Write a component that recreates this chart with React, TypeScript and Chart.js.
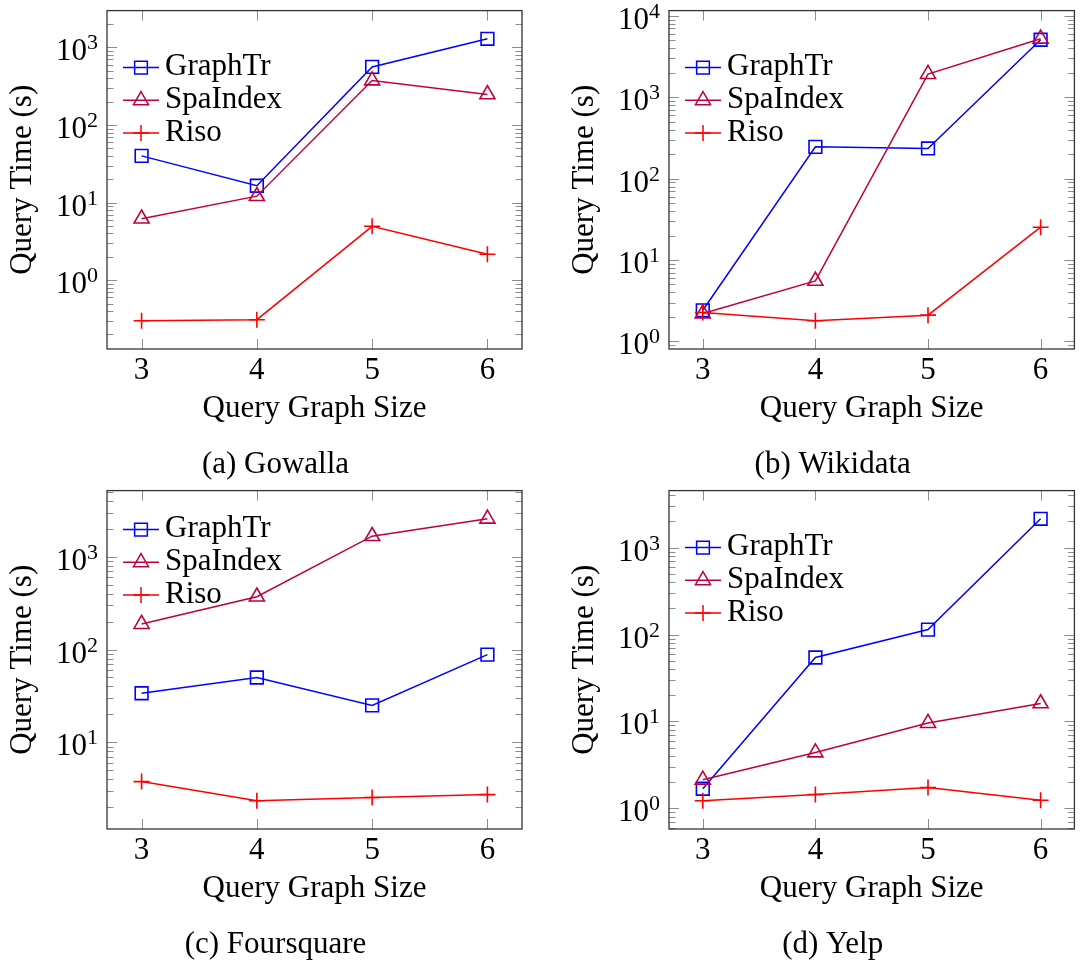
import React, { useEffect, useRef } from "react";
import { Chart, registerables } from "chart.js";

Chart.register(...registerables);

// Query graph sizes on the x axis
const querySizes = [3, 4, 5, 6];
const methodNames = ["GraphTr", "SpaIndex", "Riso"];

// Query time in seconds for each method, per dataset
const gowallaGraphTr = [40, 16.5, 560, 1290];
const gowallaSpaIndex = [6.2, 12.1, 374, 248];
const gowallaRiso = [0.3, 0.31, 4.95, 2.16];

const wikidataGraphTr = [2.41, 246, 235, 5090];
const wikidataSpaIndex = [2.2, 5.54, 1925, 5230];
const wikidataRiso = [2.26, 1.79, 2.1, 25.3];

const foursquareGraphTr = [33.8, 49.9, 25.0, 88.2];
const foursquareSpaIndex = [188, 371, 1667, 2566];
const foursquareRiso = [3.77, 2.34, 2.54, 2.73];

const yelpGraphTr = [1.68, 54.4, 114, 2148];
const yelpSpaIndex = [2.13, 4.38, 9.57, 16.1];
const yelpRiso = [1.22, 1.44, 1.73, 1.24];

const captions = ["(a) Gowalla", "(b) Wikidata", "(c) Foursquare", "(d) Yelp"];
const xTitle = "Query Graph Size";
const yTitle = "Query Time (s)";

const SERIF = "'Liberation Serif', 'Times New Roman', serif";
const FONT_SIZE = 31;
const SUP_SIZE = 22;

const seriesStyles = [
  { color: "#0000ff", pointStyle: "rect", radius: 9 },
  { color: "#bf0040", pointStyle: "triangle", radius: 8.7 },
  { color: "#ff0000", pointStyle: "cross", radius: 8 },
];

type PanelSpec = {
  caption: string;
  series: number[][];
  left: number;
  top: number;
  width: number;
  height: number;
  axisWidth: number;
  rightPad: number;
  legendTop: number;
};

const panels: PanelSpec[] = [
  { caption: captions[0], series: [gowallaGraphTr, gowallaSpaIndex, gowallaRiso], left: 0, top: 0, width: 545, height: 480, axisWidth: 107, rightPad: 23, legendTop: 57 },
  { caption: captions[1], series: [wikidataGraphTr, wikidataSpaIndex, wikidataRiso], left: 545, top: 0, width: 540, height: 480, axisWidth: 124, rightPad: 2, legendTop: 57 },
  { caption: captions[2], series: [foursquareGraphTr, foursquareSpaIndex, foursquareRiso], left: 0, top: 480, width: 545, height: 484, axisWidth: 107, rightPad: 23, legendTop: 39 },
  { caption: captions[3], series: [yelpGraphTr, yelpSpaIndex, yelpRiso], left: 545, top: 480, width: 540, height: 484, axisWidth: 124, rightPad: 2, legendTop: 57 },
];

const CHART_TOP = 5;
const CHART_BOTTOM = 349;

// Axis range padded by 10% of the data span, in log space for y
function logLimits(values: number[]) {
  const logs = values.map((v) => Math.log10(v));
  const lo = Math.min(...logs);
  const hi = Math.max(...logs);
  const pad = (hi - lo) * 0.1;
  return { min: Math.pow(10, lo - pad), max: Math.pow(10, hi + pad) };
}

function linearLimits(values: number[]) {
  const lo = Math.min(...values);
  const hi = Math.max(...values);
  const pad = (hi - lo) * 0.1;
  return { min: lo - pad, max: hi + pad };
}

function strokeLine(ctx: CanvasRenderingContext2D, x0: number, y0: number, x1: number, y1: number) {
  ctx.beginPath();
  ctx.moveTo(x0, y0);
  ctx.lineTo(x1, y1);
  ctx.stroke();
}

function drawMarker(ctx: CanvasRenderingContext2D, style: string, x: number, y: number, r: number) {
  ctx.beginPath();
  if (style === "rect") {
    const s = Math.SQRT1_2 * r;
    ctx.rect(x - s, y - s, 2 * s, 2 * s);
  } else if (style === "triangle") {
    ctx.moveTo(x, y - r);
    ctx.lineTo(x + 0.866 * r, y + 0.5 * r);
    ctx.lineTo(x - 0.866 * r, y + 0.5 * r);
    ctx.closePath();
  } else {
    ctx.moveTo(x, y - r);
    ctx.lineTo(x, y + r);
    ctx.moveTo(x - r, y);
    ctx.lineTo(x + r, y);
  }
  ctx.stroke();
}

function Panel({ spec }: { spec: PanelSpec }) {
  const ref = useRef<HTMLCanvasElement>(null);

  useEffect(() => {
    const canvas = ref.current;
    if (!canvas) return;
    const yLim = logLimits(spec.series.flat());
    const xLim = linearLimits(querySizes);

    const decor = {
      id: "panelDecor",
      beforeDatasetsDraw(chart: any) {
        const { ctx, chartArea: a, scales } = chart;
        const xs = scales.x;
        const ys = scales.y;
        ctx.save();
        // inward tick marks on all four sides
        ctx.strokeStyle = "rgba(120,120,120,0.85)";
        ctx.lineWidth = 1;
        for (const v of querySizes) {
          const px = Math.round(xs.getPixelForValue(v)) + 0.5;
          strokeLine(ctx, px, a.bottom, px, a.bottom - 10);
          strokeLine(ctx, px, a.top, px, a.top + 10);
        }
        const lo = Math.floor(Math.log10(ys.min));
        const hi = Math.ceil(Math.log10(ys.max));
        for (let e = lo; e <= hi; e++) {
          for (let m = 1; m <= 9; m++) {
            const v = m * Math.pow(10, e);
            if (v < ys.min || v > ys.max) continue;
            const py = Math.round(ys.getPixelForValue(v)) + 0.5;
            const len = m === 1 ? 10 : 6.5;
            strokeLine(ctx, a.left, py, a.left + len, py);
            strokeLine(ctx, a.right, py, a.right - len, py);
          }
        }
        // axis frame
        ctx.strokeStyle = "#333";
        ctx.lineWidth = 1.3;
        ctx.strokeRect(a.left, a.top, a.right - a.left, a.bottom - a.top);
        ctx.restore();
      },
      afterDraw(chart: any) {
        const { ctx, chartArea: a, scales } = chart;
        const ys = scales.y;
        ctx.save();
        ctx.fillStyle = "#000";
        ctx.textAlign = "left";
        ctx.textBaseline = "alphabetic";

        // y tick labels as powers of ten
        const e0 = Math.ceil(Math.log10(ys.min) - 1e-9);
        const e1 = Math.floor(Math.log10(ys.max) + 1e-9);
        for (let e = e0; e <= e1; e++) {
          const py = ys.getPixelForValue(Math.pow(10, e));
          const exp = String(e);
          ctx.font = `${SUP_SIZE}px ${SERIF}`;
          const ew = ctx.measureText(exp).width;
          ctx.font = `${FONT_SIZE}px ${SERIF}`;
          const bw = ctx.measureText("10").width;
          const right = a.left - 9;
          ctx.fillText("10", right - ew - bw, py + 13);
          ctx.font = `${SUP_SIZE}px ${SERIF}`;
          ctx.fillText(exp, right - ew, py + 2);
        }

        // axis titles
        ctx.font = `${FONT_SIZE}px ${SERIF}`;
        ctx.textAlign = "center";
        const cx = (a.left + a.right) / 2;
        ctx.fillText(xTitle, cx, a.bottom + 68);
        ctx.save();
        ctx.translate(a.left - 76, (a.top + a.bottom) / 2);
        ctx.rotate(-Math.PI / 2);
        ctx.fillText(yTitle, 0, 0);
        ctx.restore();

        // sub-figure caption
        ctx.fillText(spec.caption, cx - 39, 473);

        // legend
        ctx.textAlign = "left";
        chart.data.datasets.forEach((ds: any, i: number) => {
          const ry = a.top + spec.legendTop + i * 32.7;
          ctx.strokeStyle = ds.borderColor;
          ctx.lineWidth = 1.5;
          strokeLine(ctx, a.left + 16, ry, a.left + 52, ry);
          drawMarker(ctx, ds.pointStyle, a.left + 34, ry, ds.pointRadius);
          ctx.fillStyle = "#000";
          ctx.font = `${FONT_SIZE}px ${SERIF}`;
          ctx.fillText(ds.label, a.left + 58, ry + 7.5);
        });
        ctx.restore();
      },
    };

    const chart = new Chart(canvas, {
      type: "line",
      data: {
        datasets: spec.series.map((vals, i) => ({
          label: methodNames[i],
          data: querySizes.map((x, j) => ({ x, y: vals[j] })),
          borderColor: seriesStyles[i].color,
          backgroundColor: "rgba(0,0,0,0)",
          borderWidth: 1.5,
          pointStyle: seriesStyles[i].pointStyle as any,
          pointRadius: seriesStyles[i].radius,
          pointBorderWidth: 1.6,
          pointBorderColor: seriesStyles[i].color,
          pointBackgroundColor: "rgba(0,0,0,0)",
          tension: 0,
          fill: false,
          clip: false as any,
          order: 3 - i,
        })),
      },
      options: {
        responsive: false,
        animation: false,
        devicePixelRatio: 1,
        layout: { padding: { top: CHART_TOP, right: spec.rightPad, left: 0, bottom: 0 } },
        plugins: { legend: { display: false }, tooltip: { enabled: false } },
        scales: {
          x: {
            type: "linear",
            min: xLim.min,
            max: xLim.max,
            grid: { display: false, drawTicks: false },
            border: { display: false },
            ticks: {
              color: "#000",
              padding: 3,
              font: { family: SERIF, size: FONT_SIZE },
              maxRotation: 0,
            },
            afterBuildTicks: (scale: any) => {
              scale.ticks = querySizes.map((v) => ({ value: v }));
            },
            afterFit: (scale: any) => {
              scale.height = spec.height - CHART_BOTTOM;
            },
          },
          y: {
            type: "logarithmic",
            min: yLim.min,
            max: yLim.max,
            grid: { display: false, drawTicks: false },
            border: { display: false },
            ticks: { display: false },
            afterFit: (scale: any) => {
              scale.width = spec.axisWidth;
            },
          },
        },
      },
      plugins: [decor],
    });
    return () => chart.destroy();
  }, [spec]);

  return (
    <canvas
      ref={ref}
      width={spec.width}
      height={spec.height}
      style={{ position: "absolute", left: spec.left, top: spec.top, width: spec.width, height: spec.height }}
    />
  );
}

export default function App() {
  return (
    <div style={{ position: "absolute", left: 0, top: 0, width: 1085, height: 964, background: "#fff" }}>
      {panels.map((p) => (
        <Panel key={p.caption} spec={p} />
      ))}
    </div>
  );
}
